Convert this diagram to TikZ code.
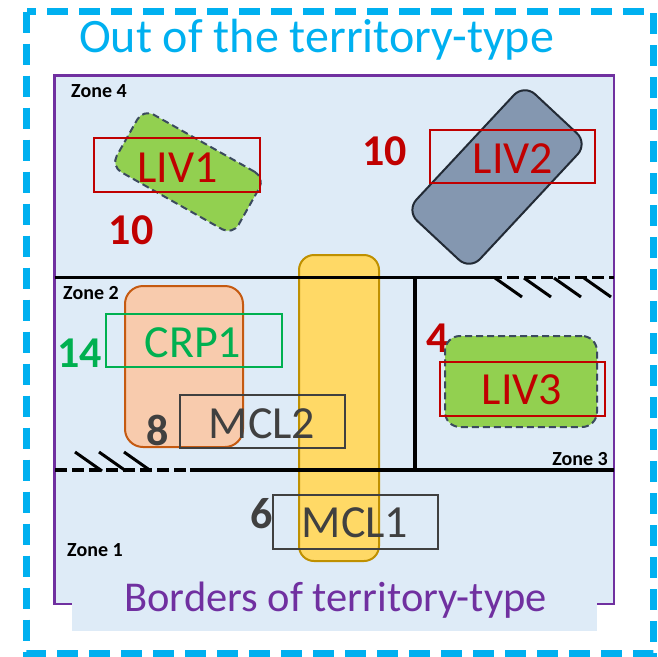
\documentclass[tikz,border=0pt]{standalone}
\usepackage{fontspec}
\setmainfont{Carlito}
\definecolor{cyanb}{HTML}{00B0F0}
\definecolor{purp}{HTML}{7030A0}
\definecolor{lblue}{HTML}{DEEBF7}
\definecolor{livgreen}{HTML}{92D050}
\definecolor{slate}{HTML}{3B4A5E}
\definecolor{slatefill}{HTML}{8497B0}
\definecolor{slatedark}{HTML}{222A35}
\definecolor{redc}{HTML}{C00000}
\definecolor{crpgreen}{HTML}{00B050}
\definecolor{orfill}{HTML}{F8CBAD}
\definecolor{ordraw}{HTML}{C55A11}
\definecolor{yefill}{HTML}{FFD966}
\definecolor{yedraw}{HTML}{BF9000}
\definecolor{darkg}{HTML}{404040}
\begin{document}
\begin{tikzpicture}[x=1pt,y=-1pt,
  lbl/.style={font=\fontsize{46}{50}\selectfont, inner sep=0pt, anchor=base},
  num/.style={font=\bfseries\fontsize{44}{50}\selectfont, inner sep=0pt, anchor=base},
  zonelbl/.style={font=\bfseries\fontsize{20}{22}\selectfont, inner sep=0pt, text=black},
  tagbox/.style={draw, line width=2pt, fill=none, inner sep=0pt, rectangle},
  livshape/.style={draw=slate, fill=livgreen, line width=2pt, dash pattern=on 7pt off 4pt, rounded corners=12pt, inner sep=0pt, rectangle},
  divider/.style={line width=3.5pt, black},
  hatchline/.style={line width=3pt, black},
]
\useasboundingbox (0,0) rectangle (658,656);
% territory
\draw[purp, line width=2.2pt, fill=lblue] (54.5,75.5) rectangle (614,604);
\fill[lblue] (72,585) rectangle (597,631);
% outer border
\draw[cyanb, line width=7pt, dash pattern=on 21pt off 11pt] (26.5,11.5) rectangle (653.5,653);
\node[font=\fontsize{48}{52}\selectfont, text=cyanb, inner sep=0pt, anchor=base] (title) at (316.5,52) {Out of the territory-type};
\node[font=\fontsize{42.5}{48}\selectfont, text=purp, inner sep=0pt, anchor=base] (borders) at (335.5,611) {Borders of territory-type};
% yellow MCL area (under the dividers)
\node[draw=yedraw, fill=yefill, line width=2pt, rounded corners=15pt, rectangle, inner sep=0pt, minimum width=80pt, minimum height=306pt] (mclarea) at (339,408) {};
% dividers
\coordinate (tl) at (55,277.5);
\coordinate (tm) at (490,277.5);
\coordinate (tr) at (614,277.5);
\coordinate (vt) at (415,277.5);
\coordinate (vb) at (415,470);
\coordinate (bl) at (55,470);
\coordinate (bm) at (190,470);
\coordinate (br) at (614,470);
\draw[divider] (tl) -- (tm);
\draw[divider, dash pattern=on 12pt off 5pt] (tm) -- (tr);
\draw[divider] (vt) -- (vb);
\draw[divider, dash pattern=on 12pt off 5pt] (bl) -- (bm);
\draw[divider] (bm) -- (br);
% hatches
\foreach \x in {495,524,554,584} \draw[hatchline] (\x,278) -- ++(27,19);
\foreach \x in {75,99,124} \draw[hatchline] (\x,452) -- ++(27,19);
% zone labels
\node[zonelbl, anchor=base west] (z4) at (71,97) {Zone 4};
\node[zonelbl, anchor=base west] (z2) at (63,299) {Zone 2};
\node[zonelbl, anchor=base west] (z1) at (67,556) {Zone 1};
\node[zonelbl, anchor=base east] (z3) at (608,465) {Zone 3};
% LIV1
\node[livshape, rotate=-29.5, minimum width=140pt, minimum height=66pt] (liv1shape) at (188,172) {};
\node[tagbox, draw=redc, minimum width=166pt, minimum height=54pt] (liv1box) at (177,165) {};
\node[lbl, text=redc] (liv1) at (177.5,182) {LIV1};
\node[num, text=redc] (n10a) at (131,244) {10};
% LIV2
\node[draw=slatedark, fill=slatefill, line width=2pt, rounded corners=15pt, rectangle, inner sep=0pt, rotate=47, minimum width=173pt, minimum height=87pt] (liv2shape) at (497,177) {};
\node[tagbox, draw=redc, minimum width=165pt, minimum height=53pt] (liv2box) at (512.5,156.5) {};
\node[lbl, text=redc] (liv2) at (513,173) {LIV2};
\node[num, text=redc] (n10b) at (384.5,165) {10};
% CRP1
\node[draw=ordraw, fill=orfill, line width=2pt, rounded corners=18pt, rectangle, inner sep=0pt, minimum width=118pt, minimum height=161pt] (crparea) at (184,366.5) {};
\node[tagbox, draw=crpgreen, minimum width=176pt, minimum height=53pt] (crpbox) at (194,340.5) {};
\node[lbl, text=crpgreen] (crp1) at (193,357.3) {CRP1};
\node[num, text=crpgreen] (n14) at (79.5,367) {14};
% MCL2
\node[tagbox, draw=darkg, minimum width=165pt, minimum height=53pt] (mcl2box) at (262.5,421.5) {};
\node[lbl, text=darkg] (mcl2) at (262,438) {MCL2};
\node[num, text=darkg] (n8) at (158,445) {8};
% MCL1
\node[tagbox, draw=darkg, minimum width=165pt, minimum height=54pt] (mcl1box) at (355.5,522) {};
\node[lbl, text=darkg] (mcl1) at (355,537.3) {MCL1};
\node[num, text=darkg] (n6) at (261.5,528) {6};
% LIV3
\node[num, text=redc] (n4) at (438,352) {4};
\node[livshape, rounded corners=15pt, minimum width=152pt, minimum height=91pt] (liv3shape) at (521,381.5) {};
\node[tagbox, draw=redc, minimum width=165pt, minimum height=54pt] (liv3box) at (522.5,389) {};
\node[lbl, text=redc] (liv3) at (522,404.7) {LIV3};
\end{tikzpicture}
\end{document}
